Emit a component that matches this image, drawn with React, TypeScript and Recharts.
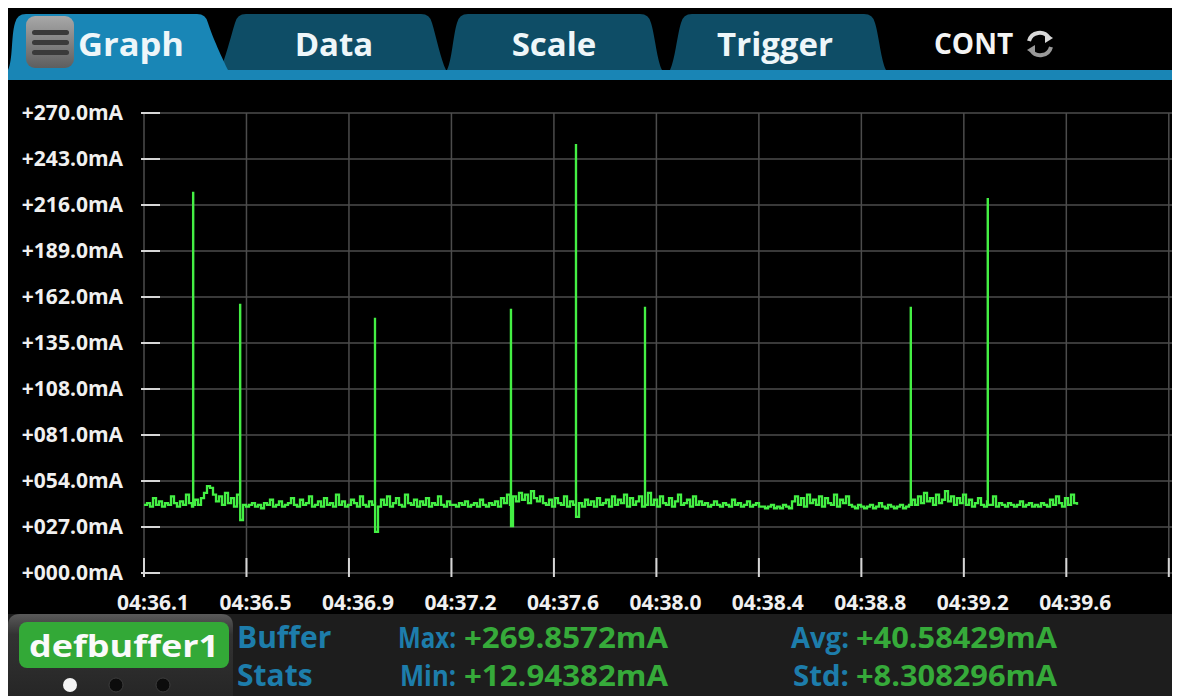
import React from 'react';
import { LineChart, Line, XAxis, YAxis, CartesianGrid } from 'recharts';

// time axis: seconds past 04:00, one grid division per label step
const T0 = 276.08;
const DIV = 0.386;
const SAMPLE_DT = 0.0113;

const Y_TICKS = [0, 27, 54, 81, 108, 135, 162, 189, 216, 243, 270];
const X_LABELS = [
  '04:36.1', '04:36.5', '04:36.9', '04:37.2', '04:37.6',
  '04:38.0', '04:38.4', '04:38.8', '04:39.2', '04:39.6',
];

// defbuffer1 readings (mA)
const READINGS = [
  40, 41, 39, 44, 40, 42, 39, 41, 40, 45, 41, 39, 42, 40, 46, 41, 39, 43, 40,
  44, 47, 51, 50, 46, 42,
  45, 40, 47, 41, 44, 39, 46, 41, 40,
  39, 40, 41, 39, 40, 38, 41, 40, 43, 39, 40, 42, 39, 40, 41,
  44, 40, 39, 43, 40, 41, 45, 39, 40, 42, 39, 44, 40, 41, 39, 46, 40, 42, 39, 40,
  43, 41, 39, 45, 40, 39, 42, 40, 41, 39,
  43, 40, 45, 39, 41, 44, 40, 39, 46, 41, 40, 43, 39, 42, 40, 44, 39, 41, 40, 45,
  40, 39, 42, 40,
  40, 39, 41, 40, 42, 39, 40, 41, 39, 43, 40, 39, 41, 40, 42, 39,
  44, 41, 46, 40, 45, 42, 47, 43, 46, 41, 48, 44, 42, 45, 41,
  40, 43, 39, 44, 41, 40, 45, 39, 42, 40, 46, 41, 39, 43, 40, 42, 39, 44, 40, 41,
  43, 39,
  45, 40, 43, 41, 46, 39, 44, 40, 42, 45, 39, 41, 47, 40, 43, 39, 45, 41, 40, 44,
  39, 42, 46, 40, 41, 43, 39, 45, 40, 42,
  40, 41, 39, 40, 42, 40, 39, 41, 40, 39, 43, 40, 41, 39, 40, 42, 39, 40, 41, 39,
  39, 38, 39, 40, 38, 39, 38, 40, 39, 38,
  42, 45, 40, 44, 39, 46, 41, 43, 40, 45, 39, 44, 41, 40, 46, 39, 43, 41, 45, 40,
  39, 38, 40, 39, 38, 39, 40, 38, 39, 41, 39, 38, 40, 39, 38, 39, 40, 38, 39, 40,
  43, 40, 45, 41, 47, 42, 44, 40, 46, 41, 43, 48, 42, 45, 40, 44, 41, 46,
  40, 43, 39, 41, 44, 40, 39, 42, 40, 45, 39, 41,
  40, 39, 41, 40, 39, 40, 42, 39, 40, 41, 39, 40, 39, 41, 40, 39,
  43, 40, 45, 41, 39, 44, 40, 46, 41, 40,
];

// current spikes: time, peak, and the low point right after
const SPIKE_TIMES = [276.265, 276.442, 276.95, 277.462, 277.707, 277.967, 278.968, 279.258];
const SPIKE_PEAKS = [223.1, 157.3, 149.1, 154.4, 251.2, 155.6, 155.6, 219.5];
const SPIKE_DIPS = [40, 31.1, 24.1, 27.6, 32.9, 40, 40, 40];

const FONT = '"Open Sans", "Noto Sans", sans-serif';

const data = [
  ...READINGS.map((v, i) => ({ t: T0 + i * SAMPLE_DT, v })),
  ...SPIKE_TIMES.flatMap((t, i) => [
    { t, v: SPIKE_PEAKS[i] },
    { t: t + 0.0004, v: SPIKE_DIPS[i] },
  ]),
].sort((a, b) => a.t - b.t);

const xTicks = Array.from({ length: 11 }, (_, k) => T0 + k * DIV);

const fmtY = (v: number) => '+' + v.toFixed(1).padStart(5, '0') + 'mA';

function YTick({ x, y, payload }: any) {
  return (
    <g>
      <line x1={x - 3} x2={x + 16} y1={y} y2={y} stroke="#d6d6d6" strokeWidth={2} />
      <text x={x - 21} y={y} dy={7} textAnchor="end" fill="#f0f0f0" fontSize={21} fontWeight={700} fontFamily={FONT}>
        {fmtY(payload.value)}
      </text>
    </g>
  );
}

function XTick({ x, y, payload }: any) {
  const idx = Math.round((payload.value - T0) / DIV);
  return (
    <g>
      <line x1={x} x2={x} y1={y - 15} y2={y + 4} stroke="#d6d6d6" strokeWidth={2} />
      <text x={x + 9} y={y + 37} textAnchor="middle" fill="#f0f0f0" fontSize={21} fontWeight={700} fontFamily={FONT}>
        {X_LABELS[idx] ?? ''}
      </text>
    </g>
  );
}

function tabPath(lb: number, lt: number, rt: number, rb: number) {
  const top = 6;
  const bot = 62;
  return `M${lb},${bot} C${lb + 5},${bot - 10} ${lt - 6},${top + 22} ${lt - 2},${top + 9} Q${lt},${top} ${lt + 9},${top} L${rt - 9},${top} Q${rt},${top} ${rt + 2},${top + 9} C${rt + 6},${top + 22} ${rb - 5},${bot - 10} ${rb},${bot} Z`;
}

function Frame() {
  const tabText = { fill: '#eef6f9', fontSize: 33, fontWeight: 700, fontFamily: FONT } as const;
  const label = { fill: '#1d7dab', fontSize: 29, fontWeight: 700, fontFamily: FONT } as const;
  const value = { fill: '#36aa3a', fontSize: 29, fontWeight: 700, fontFamily: FONT } as const;
  return (
    <svg width={1172} height={688} style={{ position: 'absolute', left: 0, top: 0 }}>
      <defs>
        <linearGradient id="menu" x1="0" y1="0" x2="0" y2="1">
          <stop offset="0" stopColor="#a8a8a8" />
          <stop offset="1" stopColor="#5e5e5e" />
        </linearGradient>
        <linearGradient id="box" x1="0" y1="0" x2="0" y2="1">
          <stop offset="0" stopColor="#5a5a5a" />
          <stop offset="0.25" stopColor="#333" />
          <stop offset="1" stopColor="#262626" />
        </linearGradient>
      </defs>
      <rect width={1172} height={688} fill="#000" />

      {/* tabs */}
      <path d={tabPath(212, 229, 422, 438)} fill="#0e4d66" />
      <path d={tabPath(439, 451, 641, 654)} fill="#0e4d66" />
      <path d={tabPath(662, 675, 865, 878)} fill="#0e4d66" />
      <path d={tabPath(0, 9, 198, 220)} fill="#1986b6" />
      <rect x={0} y={62} width={1172} height={10} fill="#1985b5" />

      <rect x={18} y={8} width={48} height={52} rx={9} fill="url(#menu)" />
      <rect x={24} y={22} width={37} height={5} rx={2.5} fill="#3a3a3a" />
      <rect x={24} y={32} width={37} height={5} rx={2.5} fill="#3a3a3a" />
      <rect x={24} y={42} width={37} height={5} rx={2.5} fill="#3a3a3a" />

      <text x={70} y={48} {...tabText} textLength={106} lengthAdjust="spacingAndGlyphs">Graph</text>
      <text x={326} y={48} textAnchor="middle" {...tabText}>Data</text>
      <text x={546} y={48} textAnchor="middle" {...tabText}>Scale</text>
      <text x={767} y={48} textAnchor="middle" {...tabText}>Trigger</text>
      <text x={926} y={46} fill="#f4f4f4" fontSize={28} fontWeight={700} fontFamily={FONT}>CONT</text>
      <g transform="translate(1032,36)" fill="none" strokeWidth={4}>
        <path d="M-11,-3 A11,11 0 0 1 9,-6" stroke="#d8d8d8" />
        <path d="M11,3 A11,11 0 0 1 -9,6" stroke="#9a9a9a" />
        <path d="M5,-11 L13,-6 L5,-1 Z" fill="#d8d8d8" stroke="none" />
        <path d="M-5,11 L-13,6 L-5,1 Z" fill="#9a9a9a" stroke="none" />
      </g>

      {/* buffer stats panel */}
      <rect x={0} y={606} width={1172} height={82} fill="#1d1d1d" />
      <path d="M0,688 L0,618 Q0,606 12,606 L213,606 Q225,606 225,618 L225,688 Z" fill="url(#box)" />
      <rect x={11} y={614} width={210} height={46} rx={8} fill="#33a937" />
      <text x={116} y={649} textAnchor="middle" fill="#fafafa" fontSize={31} fontWeight={700} fontFamily={FONT}
        textLength={190} lengthAdjust="spacingAndGlyphs">defbuffer1</text>
      <circle cx={62} cy={677} r={7} fill="#f4f4f4" />
      <circle cx={108} cy={677} r={7} fill="#0c0c0c" stroke="#3c3c3c" />
      <circle cx={155} cy={677} r={7} fill="#0c0c0c" stroke="#3c3c3c" />

      <text x={229} y={640} {...label} fontSize={30}>Buffer</text>
      <text x={229} y={678} {...label} fontSize={30}>Stats</text>
      <text x={448} y={640} textAnchor="end" {...label} textLength={58} lengthAdjust="spacingAndGlyphs">Max:</text>
      <text x={448} y={678} textAnchor="end" {...label} textLength={56} lengthAdjust="spacingAndGlyphs">Min:</text>
      <text x={456} y={640} {...value} textLength={204} lengthAdjust="spacingAndGlyphs">+269.8572mA</text>
      <text x={456} y={678} {...value} textLength={204} lengthAdjust="spacingAndGlyphs">+12.94382mA</text>
      <text x={841} y={640} textAnchor="end" {...label} textLength={58} lengthAdjust="spacingAndGlyphs">Avg:</text>
      <text x={841} y={678} textAnchor="end" {...label} textLength={56} lengthAdjust="spacingAndGlyphs">Std:</text>
      <text x={848} y={640} {...value} textLength={201} lengthAdjust="spacingAndGlyphs">+40.58429mA</text>
      <text x={848} y={678} {...value} textLength={201} lengthAdjust="spacingAndGlyphs">+8.308296mA</text>
    </svg>
  );
}

export default function App() {
  return (
    <div style={{ position: 'relative', width: 1172, height: 688, background: '#000', overflow: 'hidden' }}>
      <Frame />
      <div style={{ position: 'absolute', left: 0, top: 80 }}>
        <LineChart width={1172} height={535} data={data} margin={{ top: 25, right: 3, left: 0, bottom: 0 }}>
          <CartesianGrid stroke="#4c4c4c" strokeWidth={1.5} />
          <XAxis
            dataKey="t"
            type="number"
            domain={[T0, T0 + 10.08 * DIV]}
            ticks={xTicks}
            interval={0}
            height={50}
            axisLine={false}
            tickLine={false}
            tickSize={0}
            tickMargin={0}
            tick={<XTick />}
            allowDataOverflow
          />
          <YAxis
            type="number"
            domain={[0, 270]}
            ticks={Y_TICKS}
            interval={0}
            width={136}
            axisLine={false}
            tickLine={false}
            tickSize={0}
            tickMargin={0}
            tick={<YTick />}
          />
          <Line type="stepAfter" dataKey="v" stroke="#44ef44" strokeWidth={2.3} dot={false} isAnimationActive={false} />
        </LineChart>
      </div>
    </div>
  );
}
